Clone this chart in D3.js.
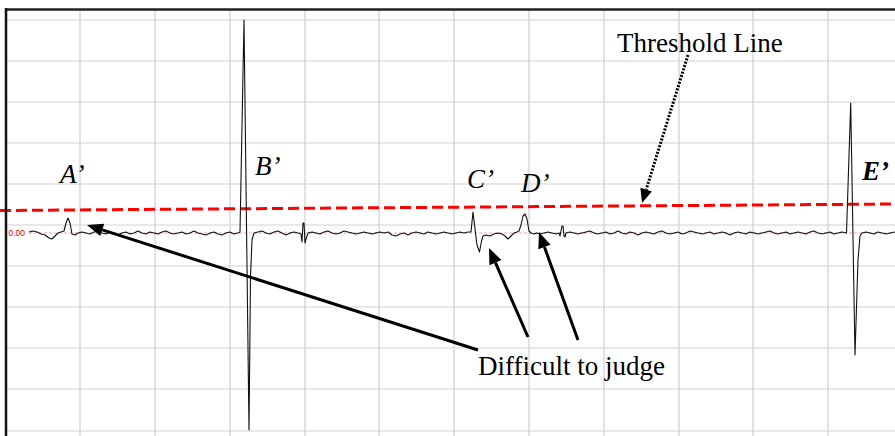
<!DOCTYPE html>
<html>
<head>
<meta charset="utf-8">
<script src="https://cdn.jsdelivr.net/npm/d3@7"></script>
<style>
  html, body { margin: 0; padding: 0; background: #fff; overflow: hidden; }
  svg { display: block; }
</style>
</head>
<body>
<svg id="chart" width="895" height="436"></svg>
<script>
// Recorded trace: sample index and amplitude (arbitrary units, baseline = 0)
const signalT = [
  29, 33, 37, 41, 45, 49, 52, 55, 58, 61, 64, 66, 68, 70, 72, 75, 78, 82, 86, 90,
  94, 98, 102, 106, 110, 114, 118, 122, 126, 130, 134, 138, 142, 146, 150, 154, 158, 162, 166, 170,
  174, 178, 182, 186, 190, 194, 198, 202, 206, 210, 214, 218, 222, 226, 230, 234, 238, 240, 244, 249,
  250.5, 252, 254, 258, 262, 266, 270, 274, 278, 282, 286, 290, 294, 298, 301, 302, 303, 304, 305, 306,
  308, 312, 316, 320, 324, 328, 332, 336, 340, 344, 348, 352, 356, 360, 364, 368, 372, 376, 380, 384,
  388, 392, 396, 400, 404, 408, 412, 416, 420, 424, 428, 432, 436, 440, 444, 448, 452, 456, 460, 464,
  468, 471, 473, 475.5, 477, 479.5, 481.5, 483, 486, 490, 494, 498, 502, 505, 508, 511, 514, 517, 519, 521,
  523, 525, 527, 529, 531, 534, 537, 540, 544, 548, 552, 556, 559, 560, 562, 563, 564, 565, 566, 570,
  574, 578, 582, 586, 590, 594, 598, 602, 606, 610, 614, 618, 622, 626, 630, 634, 638, 642, 646, 650,
  654, 658, 662, 666, 670, 674, 678, 682, 686, 690, 694, 698, 702, 706, 710, 714, 718, 722, 726, 730,
  734, 738, 742, 746, 750, 754, 758, 762, 766, 770, 774, 778, 782, 786, 790, 794, 798, 802, 806, 810,
  814, 818, 822, 826, 830, 834, 838, 842, 846.5, 850.7, 855, 858, 860, 862, 866, 870, 874, 878, 882, 886,
  890, 895
];
const signalV = [
  0.5, 1, 0.5, -0.5, -1, -2.5, -3, -1.5, 0, 0.5, 1, 5, 7.5, 5, -0.5, -1, 0, 0.5, 0, -0.5,
  0.5, 1, 0, -0.5, 0.5, 0, -1, 0, 0.5, -0.5, 0, 1, 0, -0.5, 0.5, 0, -0.5, 0.5, 1, 0,
  -0.5, 0, 0.5, -0.5, 0, 1, 0, -0.5, -1, 0, 0.5, -0.5, -1, 0, 0.5, -0.5, 0, 0.5, 106.5, -98.5,
  -22, -3.5, 0, 0.5, 1, 0, -0.5, 0.5, 1, 0, -1, 0, 0.5, 0, -0.5, -4.5, 5, 5, -5, -3,
  0, 0.5, 0, -0.5, 0.5, 1, 0, -0.5, 0, 1, 0.5, 0, -0.5, 0, 0.5, 0, -0.5, 0, 0.5, 0,
  0.5, -1, -1.5, -0.5, 0, -1, 0, 0.5, 0, -0.5, 0.5, 0, -0.5, 0, 0.5, 0, -0.5, 0, 0.5, 0,
  0.5, 0.5, 10.5, 0, -6, -9.5, -4, -1.5, -1, -1.5, -0.5, 0, -0.5, -1.5, -3, -1.5, 0, 0.5, 1, 4,
  8.5, 9.5, 7, 1, 0, -0.5, 0, -0.5, 0, 0.5, 0, -0.5, 0, -1.5, 3.5, 3.5, -1.5, -2, 0, 0.5,
  0, -0.5, 0, 0.5, 1, 0, -0.5, 0, 0.5, -0.5, 0, 1, 0, -0.5, 0.5, 0, -1, 0, 0.5, 0,
  -0.5, 0.5, 1, 0, -0.5, 0, 0.5, -0.5, 0, 1, 0.5, 0, -0.5, 0, 0.5, -0.5, 0, 0.5, 0, -1,
  0, 0.5, 0, -0.5, 0.5, 0, -0.5, 0, 0.5, 1, 0, -0.5, 0, 0.5, -0.5, 0, 0.5, 0, -0.5, 0.5,
  1, 0, -0.5, 0, 0.5, -0.5, 0, 0.5, 0, 65, -61, -13.5, -1.5, 0, 0.5, 0, -0.5, 0.5, 0, -0.5,
  0, 0.5
];

// Detection threshold (slowly drifting)
const thresholdT = [0, 895];
const thresholdV = [11.25, 14.5];

// Grid lines
const gridXTicks = [6, 80, 155, 230, 305, 379, 454, 529, 604, 679, 753, 828];
const gridYTicks = [106.5, 86, 65.5, 45, 24.5, 4, -16.5, -37, -57.5, -78, -99];

// Peak labels
const peakLabels = ["A’", "B’", "C’", "D’", "E’"];
const peakLabelT = [60, 255, 467, 521, 862];
const peakLabelV = [25, 29, 22.5, 20.5, 26.5];

const baselineLabel = "0.00";

const svg = d3.select("#chart");
const W = 895, H = 436;

const x = d3.scaleLinear().domain([0, 895]).range([0, 895]);
const y = d3.scaleLinear().domain([-100, 100]).range([433, 33]);

// grid
const grid = svg.append("g");
grid.selectAll("line.gx").data(gridXTicks).join("line")
  .attr("x1", d => x(d)).attr("x2", d => x(d))
  .attr("y1", 10).attr("y2", H)
  .attr("stroke", "#cfcfcf").attr("stroke-width", 1.2);
grid.selectAll("line.gy").data(gridYTicks).join("line")
  .attr("x1", 6).attr("x2", W)
  .attr("y1", d => y(d)).attr("y2", d => y(d))
  .attr("stroke", "#d2d2d2").attr("stroke-width", 1.2);

// baseline reference (dotted pink)
svg.append("line")
  .attr("x1", x(29)).attr("x2", x(895))
  .attr("y1", y(0)).attr("y2", y(0))
  .attr("stroke", "#f2a0a0").attr("stroke-width", 1)
  .attr("stroke-dasharray", "3,2");

svg.append("text")
  .attr("x", 25).attr("y", y(0) + 3)
  .attr("text-anchor", "end")
  .attr("font-family", "Liberation Sans, Arial, sans-serif")
  .attr("font-size", 8.5)
  .attr("fill", "#e00000")
  .text(baselineLabel);

// threshold line
const thrData = thresholdT.map((t, i) => [t, thresholdV[i]]);
svg.append("path")
  .datum(thrData)
  .attr("d", d3.line().x(d => x(d[0])).y(d => y(d[1])))
  .attr("fill", "none")
  .attr("stroke", "#ff0000")
  .attr("stroke-width", 3)
  .attr("stroke-dasharray", "11,5");

// signal trace
const sig = signalT.map((t, i) => [t, signalV[i]]);
svg.append("path")
  .datum(sig)
  .attr("d", d3.line().x(d => x(d[0])).y(d => y(d[1])))
  .attr("fill", "none")
  .attr("stroke", "#111")
  .attr("stroke-width", 1.1)
  .attr("stroke-linejoin", "round");

// frame
svg.append("line").attr("x1", 5).attr("x2", W).attr("y1", 9.5).attr("y2", 9.5)
  .attr("stroke", "#222").attr("stroke-width", 2.5);
svg.append("line").attr("x1", 6).attr("x2", 6).attr("y1", 8).attr("y2", H)
  .attr("stroke", "#111").attr("stroke-width", 2.5);

// peak labels
const serif = "Liberation Serif, Times New Roman, serif";
svg.selectAll("text.peak").data(peakLabels).join("text")
  .attr("class", "peak")
  .attr("x", (d, i) => x(peakLabelT[i]))
  .attr("y", (d, i) => y(peakLabelV[i]))
  .attr("font-family", serif)
  .attr("font-size", 27)
  .attr("font-style", "italic")
  .attr("font-weight", (d, i) => i === 4 ? "bold" : "normal")
  .attr("fill", "#000")
  .text(d => d);

// annotation arrows
function arrow(t0, v0, t1, v1, opts) {
  const x0 = x(t0), y0 = y(v0), x1 = x(t1), y1 = y(v1);
  const ang = Math.atan2(y1 - y0, x1 - x0);
  const len = opts.head, half = opts.half;
  const bx = x1 - len * Math.cos(ang), by = y1 - len * Math.sin(ang);
  svg.append("line")
    .attr("x1", x0).attr("y1", y0).attr("x2", bx).attr("y2", by)
    .attr("stroke", "#000").attr("stroke-width", opts.width)
    .attr("stroke-dasharray", opts.dash || null);
  const px = -Math.sin(ang) * half, py = Math.cos(ang) * half;
  svg.append("polygon")
    .attr("points", [[x1, y1], [bx + px, by + py], [bx - px, by - py]].map(p => p.join(",")).join(" "))
    .attr("fill", "#000");
}

arrow(478, -58.5, 87, 4, { width: 3, head: 16, half: 6.5 });
arrow(528, -52, 489, -7.5, { width: 3, head: 16, half: 6.5 });
arrow(578, -53.5, 539, 0.5, { width: 3, head: 16, half: 6.5 });
arrow(688, 89, 642, 15, { width: 3, head: 14, half: 6, dash: "2,1.5" });

svg.append("text")
  .attr("x", x(617)).attr("y", y(90.5))
  .attr("font-family", serif).attr("font-size", 27).attr("fill", "#000")
  .text("Threshold Line");

svg.append("text")
  .attr("x", x(478)).attr("y", y(-71))
  .attr("font-family", serif).attr("font-size", 27).attr("fill", "#000")
  .text("Difficult to judge");
</script>
</body>
</html>
